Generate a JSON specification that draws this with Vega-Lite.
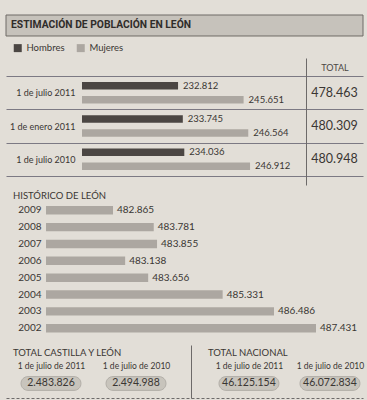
{
  "$schema": "https://vega.github.io/schema/vega-lite/v6.json",
  "background": "#e2ded7",
  "padding": {"left": 5, "top": 14, "right": 5, "bottom": 2},
  "spacing": 0,
  "config": {
    "view": {"stroke": null},
    "font": "Lato",
    "text": {"font": "Lato", "color": "#3a3633"},
    "axis": {"labelFont": "Lato", "labelColor": "#3a3633", "titleFont": "Lato"},
    "title": {"font": "Lato", "color": "#3a3633", "fontWeight": "normal", "fontSize": 9.5},
    "locale": {"number": {"decimal": ",", "thousands": ".", "grouping": [3], "currency": ["", " €"]}}
  },
  "vconcat": [
    {
      "width": 357,
      "height": 39,
      "data": {"values": [{"titulo": "ESTIMACIÓN DE POBLACIÓN EN LEÓN"}]},
      "layer": [
        {
          "mark": {"type": "rect", "color": "#c6c2bb", "stroke": "#6f6b66", "strokeWidth": 1},
          "encoding": {
            "y": {"field": "titulo", "type": "nominal", "axis": null, "scale": {"type": "band", "paddingInner": 0, "paddingOuter": 0.4286, "align": 0}}
          }
        },
        {
          "mark": {"type": "text", "align": "left", "dx": 5, "font": "Roboto", "fontWeight": "bold", "fontSize": 10.3, "color": "#2f2c2a"},
          "encoding": {
            "y": {"field": "titulo", "type": "nominal", "axis": null},
            "x": {"field": "titulo", "type": "nominal", "axis": null, "scale": {"type": "point", "padding": 0, "align": 0}},
            "text": {"field": "titulo"}
          }
        }
      ]
    },
    {
      "spacing": 0,
      "hconcat": [
        {
          "width": 300,
          "height": 127,
          "data": {"values": [
            {"fecha": "1 de julio 2011", "sexo": "Hombres", "valor": 232812},
            {"fecha": "1 de julio 2011", "sexo": "Mujeres", "valor": 245651},
            {"fecha": "1 de enero 2011", "sexo": "Hombres", "valor": 233745},
            {"fecha": "1 de enero 2011", "sexo": "Mujeres", "valor": 246564},
            {"fecha": "1 de julio 2010", "sexo": "Hombres", "valor": 234036},
            {"fecha": "1 de julio 2010", "sexo": "Mujeres", "valor": 246912}
          ]},
          "encoding": {
            "y": {"field": "fecha", "type": "nominal", "sort": null,
              "scale": {"type": "band", "paddingInner": 0, "paddingOuter": 0.405, "align": 0.667},
              "axis": {"title": null, "domain": false, "ticks": false, "tickSize": 0, "labelPadding": 4, "offset": -73,
                "grid": true, "tickBand": "extent", "gridColor": "#7c7983", "gridOpacity": 1, "labelFontSize": 9}},
            "yOffset": {"field": "sexo", "type": "nominal", "scale": {"paddingInner": 0.464, "paddingOuter": 0.42}},
            "x": {"field": "valor", "type": "quantitative", "scale": {"domain": [199116, 257870], "nice": false, "zero": false}, "axis": null}
          },
          "layer": [
            {
              "mark": {"type": "bar"},
              "encoding": {
                "x2": {"datum": 214000},
                "color": {"field": "sexo", "type": "nominal",
                  "scale": {"domain": ["Hombres", "Mujeres"], "range": ["#4b4643", "#aca7a1"]},
                  "legend": {"orient": "none", "legendX": 7, "legendY": 28, "direction": "horizontal", "title": null,
                    "symbolType": "square", "symbolSize": 64, "symbolStrokeWidth": 0, "labelFontSize": 9.5,
                    "labelFont": "Lato", "labelColor": "#3a3633", "columnPadding": 11, "labelOffset": 4}}
              }
            },
            {
              "mark": {"type": "text", "align": "left", "baseline": "middle", "dx": 5, "fontSize": 9.5},
              "encoding": {"text": {"field": "valor", "type": "quantitative", "format": ",d"}}
            }
          ]
        },
        {
          "width": 57,
          "height": 127,
          "data": {"values": [
            {"fecha": "1 de julio 2011", "total": 478463},
            {"fecha": "1 de enero 2011", "total": 480309},
            {"fecha": "1 de julio 2010", "total": 480948}
          ]},
          "mark": {"type": "text", "fontSize": 12.5, "baseline": "middle"},
          "encoding": {
            "y": {"field": "fecha", "type": "nominal", "sort": null,
              "scale": {"type": "band", "paddingInner": 0, "paddingOuter": 0.405, "align": 0.667},
              "axis": {"title": null, "labels": false, "ticks": false, "domain": true, "domainColor": "#6d6a69",
                "grid": true, "tickBand": "extent", "gridColor": "#7c7983", "gridOpacity": 1}},
            "x": {"datum": "TOTAL", "type": "nominal", "scale": {"type": "point"},
              "axis": {"orient": "top", "title": null, "ticks": false, "tickSize": 0, "domain": false, "labelPadding": 0, "offset": -14,
                "labelFontSize": 9, "labelColor": "#4a4643", "labelAngle": 0}},
            "text": {"field": "total", "type": "quantitative", "format": ",d"}
          }
        }
      ]
    },
    {
      "width": 357,
      "height": 160,
      "title": {"text": "HISTÓRICO DE LEÓN", "anchor": "start", "dx": 7, "offset": -15, "fontSize": 9.5},
      "data": {"values": [
        {"anio": "2009", "valor": 482865},
        {"anio": "2008", "valor": 483781},
        {"anio": "2007", "valor": 483855},
        {"anio": "2006", "valor": 483138},
        {"anio": "2005", "valor": 483656},
        {"anio": "2004", "valor": 485331},
        {"anio": "2003", "valor": 486486},
        {"anio": "2002", "valor": 487431}
      ]},
      "encoding": {
        "y": {"field": "anio", "type": "nominal", "sort": null,
          "scale": {"type": "band", "paddingInner": 0.5, "paddingOuter": 1.155, "align": 0.626},
          "axis": {"title": null, "domain": false, "ticks": false, "tickSize": 0, "labelPadding": 3, "offset": -38, "labelFontSize": 10}},
        "x": {"field": "valor", "type": "quantitative", "scale": {"domain": [480458, 488488], "nice": false, "zero": false}, "axis": null}
      },
      "layer": [
        {"mark": {"type": "bar", "color": "#aca7a1"}, "encoding": {"x2": {"datum": 481358}}},
        {"mark": {"type": "text", "align": "left", "baseline": "middle", "dx": 4, "fontSize": 10},
          "encoding": {"text": {"field": "valor", "type": "quantitative", "format": ",d"}}}
      ]
    },
    {
      "spacing": 0,
      "hconcat": [
        {
          "width": 185,
          "height": 53,
          "title": {"text": "TOTAL CASTILLA Y LEÓN", "anchor": "start", "dx": 7, "offset": -12, "fontSize": 9.5},
          "data": {"values": [
            {"fecha": "1 de julio de 2011", "valor": 2483826},
            {"fecha": "1 de julio de 2010", "valor": 2494988}
          ]},
          "encoding": {
            "y": {"datum": "v", "type": "nominal", "scale": {"type": "point", "align": 0.726}, "axis": null}
          },
          "layer": [
            {
              "mark": {"type": "point", "shape": "M-0.77,-0.23 L0.77,-0.23 A0.23,0.23 0 0 1 0.77,0.23 L-0.77,0.23 A0.23,0.23 0 0 1 -0.77,-0.23 Z",
                "size": 3600, "filled": true, "color": "#c8c4bc", "stroke": "#aaa6a0", "strokeWidth": 0.8, "opacity": 1},
              "encoding": {
                "x": {"field": "fecha", "type": "nominal", "sort": null, "scale": {"type": "point", "padding": 0.588, "align": 0.45},
                  "axis": {"orient": "top", "title": null, "ticks": false, "tickSize": 0, "domain": false, "labelPadding": 0, "offset": -25,
                    "labelFontSize": 8.5, "labelAngle": 0}}
              }
            },
            {
              "mark": {"type": "text", "fontSize": 10.5, "baseline": "middle"},
              "encoding": {
                "x": {"field": "fecha", "type": "nominal", "sort": null,
                  "axis": {"orient": "bottom", "title": null, "labels": false, "ticks": false, "domain": true, "domainDash": [3, 2], "domainColor": "#6d6a69"}},
                "text": {"field": "valor", "type": "quantitative", "format": ",d"}
              }
            }
          ],
          "resolve": {"axis": {"x": "independent"}}
        },
        {
          "width": 172,
          "height": 53,
          "title": {"text": "TOTAL NACIONAL", "anchor": "start", "dx": 17, "offset": -12, "fontSize": 9.5},
          "data": {"values": [
            {"fecha": "1 de julio de 2011", "valor": 46125154},
            {"fecha": "1 de julio de 2010", "valor": 46072834}
          ]},
          "encoding": {
            "y": {"datum": "v", "type": "nominal", "scale": {"type": "point", "align": 0.726},
              "axis": {"title": null, "labels": false, "ticks": false, "domain": true, "domainColor": "#6d6a69"}}
          },
          "layer": [
            {
              "mark": {"type": "point", "shape": "M-0.77,-0.23 L0.77,-0.23 A0.23,0.23 0 0 1 0.77,0.23 L-0.77,0.23 A0.23,0.23 0 0 1 -0.77,-0.23 Z",
                "size": 3600, "filled": true, "color": "#c8c4bc", "stroke": "#aaa6a0", "strokeWidth": 0.8, "opacity": 1},
              "encoding": {
                "x": {"field": "fecha", "type": "nominal", "sort": null, "scale": {"type": "point", "padding": 0.5617, "align": 0.637},
                  "axis": {"orient": "top", "title": null, "ticks": false, "tickSize": 0, "domain": false, "labelPadding": 0, "offset": -25,
                    "labelFontSize": 8.5, "labelAngle": 0}}
              }
            },
            {
              "mark": {"type": "text", "fontSize": 10.5, "baseline": "middle"},
              "encoding": {
                "x": {"field": "fecha", "type": "nominal", "sort": null,
                  "axis": {"orient": "bottom", "title": null, "labels": false, "ticks": false, "domain": true, "domainDash": [3, 2], "domainColor": "#6d6a69"}},
                "text": {"field": "valor", "type": "quantitative", "format": ",d"}
              }
            }
          ],
          "resolve": {"axis": {"x": "independent"}}
        }
      ]
    }
  ]
}
